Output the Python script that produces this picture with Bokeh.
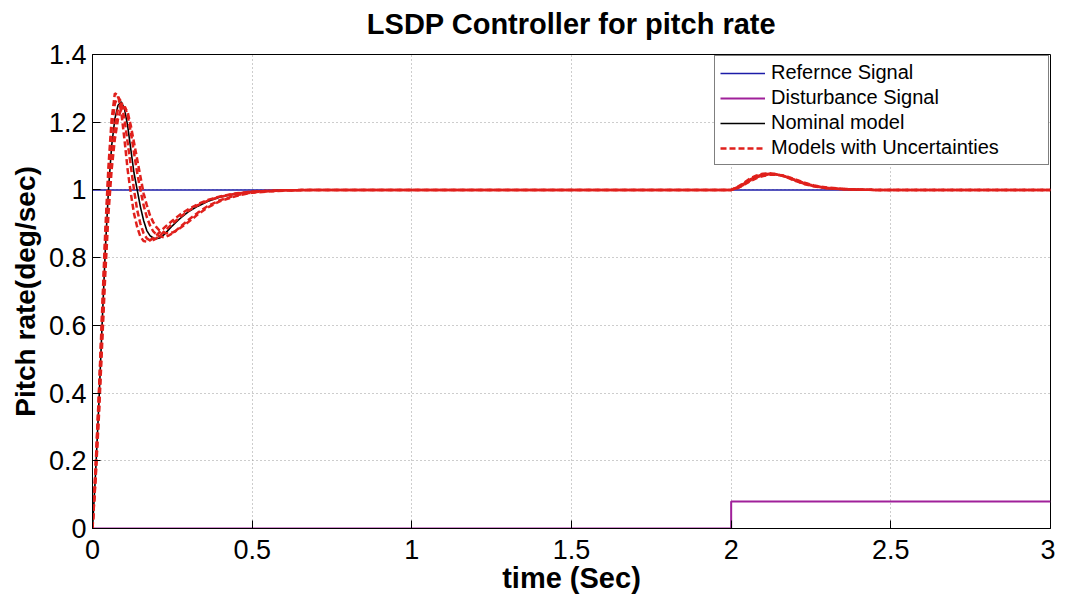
from bokeh.plotting import figure
from bokeh.models import FixedTicker, CustomJSTickFormatter, Legend, LegendItem, Title
from bokeh.embed import file_html
from bokeh.resources import INLINE

# ---------------- data ----------------
x_ticks = [0, 0.5, 1, 1.5, 2, 2.5, 3]
y_ticks = [0, 0.2, 0.4, 0.6, 0.8, 1.0, 1.2, 1.4]

ref_t = [0, 3]
ref_y = [1, 1]

dist_t = [0, 2, 2, 3]
dist_y = [0, 0, 0.08, 0.08]

# transient time grid (s)
tr = [0.00, 0.01, 0.02, 0.03, 0.04, 0.05, 0.06, 0.07, 0.08, 0.09, 0.10, 0.11, 0.12,
      0.13, 0.14, 0.15, 0.16, 0.17, 0.18, 0.19, 0.20, 0.21, 0.22, 0.23, 0.24, 0.25,
      0.26, 0.27, 0.28, 0.29, 0.30, 0.33, 0.36, 0.40, 0.45, 0.50, 0.60, 0.70]
# disturbance-response time grid (s)
tb = [2.00, 2.02, 2.04, 2.06, 2.08, 2.10, 2.12, 2.14, 2.16, 2.18, 2.20, 2.23, 2.26,
      2.30, 2.35, 2.40, 2.45, 2.50, 3.00]

nominal_tr = [0, 0.17, 0.37, 0.60, 0.82, 1.00, 1.13, 1.21, 1.25, 1.26, 1.24, 1.19, 1.12,
              1.05, 1.00, 0.95, 0.91, 0.88, 0.865, 0.858, 0.856, 0.858, 0.864, 0.874, 0.884,
              0.894, 0.903, 0.912, 0.920, 0.928, 0.935, 0.952, 0.966, 0.979, 0.989, 0.995,
              0.999, 1.0]
nominal_tb = [1.0, 1.007, 1.018, 1.030, 1.039, 1.045, 1.047, 1.046, 1.042, 1.036, 1.028,
              1.018, 1.011, 1.005, 1.002, 1.001, 1.0, 1.0, 1.0]

unc_a_tr = [0, 0.19, 0.40, 0.64, 0.88, 1.07, 1.21, 1.285, 1.28, 1.23, 1.15, 1.06, 0.99,
            0.93, 0.89, 0.862, 0.849, 0.847, 0.851, 0.858, 0.866, 0.875, 0.884, 0.893, 0.901,
            0.909, 0.917, 0.924, 0.931, 0.937, 0.943, 0.958, 0.970, 0.981, 0.990, 0.995,
            0.999, 1.0]
unc_b_tr = [0, 0.18, 0.39, 0.62, 0.85, 1.04, 1.18, 1.255, 1.275, 1.26, 1.21, 1.14, 1.07,
            1.00, 0.94, 0.90, 0.872, 0.857, 0.851, 0.852, 0.857, 0.864, 0.873, 0.882, 0.891,
            0.900, 0.908, 0.916, 0.924, 0.931, 0.938, 0.955, 0.968, 0.980, 0.989, 0.995,
            0.999, 1.0]
unc_c_tr = [0, 0.16, 0.35, 0.57, 0.79, 0.97, 1.10, 1.19, 1.24, 1.256, 1.25, 1.22, 1.17,
            1.11, 1.05, 1.00, 0.955, 0.92, 0.895, 0.878, 0.868, 0.863, 0.861, 0.862, 0.866,
            0.872, 0.879, 0.887, 0.895, 0.903, 0.911, 0.933, 0.952, 0.970, 0.984, 0.993,
            0.999, 1.0]
unc_d_tr = [0, 0.15, 0.33, 0.54, 0.75, 0.93, 1.06, 1.15, 1.21, 1.24, 1.245, 1.23, 1.19,
            1.14, 1.09, 1.04, 0.99, 0.955, 0.925, 0.905, 0.89, 0.88, 0.875, 0.872, 0.872,
            0.874, 0.878, 0.884, 0.891, 0.898, 0.905, 0.928, 0.948, 0.967, 0.982, 0.992,
            0.998, 1.0]

unc_a_tb = [1.0, 1.009, 1.021, 1.034, 1.043, 1.048, 1.049, 1.047, 1.042, 1.035, 1.027,
            1.017, 1.010, 1.005, 1.002, 1.001, 1.0, 1.0, 1.0]
unc_b_tb = [1.0, 1.008, 1.019, 1.031, 1.040, 1.046, 1.048, 1.046, 1.042, 1.036, 1.028,
            1.018, 1.011, 1.005, 1.002, 1.001, 1.0, 1.0, 1.0]
unc_c_tb = [1.0, 1.006, 1.016, 1.028, 1.037, 1.043, 1.046, 1.046, 1.043, 1.037, 1.030,
            1.020, 1.012, 1.006, 1.003, 1.001, 1.0, 1.0, 1.0]
unc_d_tb = [1.0, 1.005, 1.015, 1.026, 1.035, 1.041, 1.045, 1.045, 1.043, 1.038, 1.031,
            1.021, 1.013, 1.007, 1.003, 1.001, 1.0, 1.0, 1.0]

FONT = "Liberation Sans"

p = figure(width=1055, height=597, output_backend="svg", toolbar_location=None,
           x_range=(0, 3), y_range=(0, 1.4),
           min_border_left=92, min_border_right=5, min_border_top=54, min_border_bottom=69)

# spacer (nearest the frame) then the real title, so the title sits higher up
spacer = Title(text=" ", text_font_size="1px", standoff=12)
p.add_layout(spacer, "above")
main_title = Title(text="LSDP Controller for pitch rate", align="center",
                   text_font=FONT, text_font_size="29px", text_font_style="bold",
                   text_color="black", standoff=0)
p.add_layout(main_title, "above")

p.outline_line_color = "black"
p.outline_line_width = 1
p.background_fill_color = "white"
p.border_fill_color = "white"

for ax in (p.xaxis[0], p.yaxis[0]):
    ax.axis_line_color = "black"
    ax.major_tick_line_color = "black"
    ax.major_tick_in = 8
    ax.major_tick_out = 0
    ax.minor_tick_line_color = None
    ax.major_label_text_font = FONT
    ax.major_label_text_font_size = "27px"
    ax.major_label_text_color = "black"
    ax.axis_label_text_font = FONT
    ax.axis_label_text_font_style = "bold"
    ax.axis_label_text_color = "black"

fmt = CustomJSTickFormatter(code="return String(Number(tick.toFixed(1)));")
p.xaxis.ticker = FixedTicker(ticks=x_ticks)
p.yaxis.ticker = FixedTicker(ticks=y_ticks)
p.xaxis.formatter = fmt
p.yaxis.formatter = fmt
p.xaxis.axis_label = "time (Sec)"
p.yaxis.axis_label = "Pitch rate(deg/sec)"
p.xaxis.axis_label_text_font_size = "29px"
p.yaxis.axis_label_text_font_size = "28px"
p.xaxis.major_label_standoff = 11
p.yaxis.major_label_standoff = 6
p.xaxis.axis_label_standoff = 0
p.yaxis.axis_label_standoff = 5

p.grid.grid_line_color = "#9a9a9a"
p.grid.grid_line_dash = "1 3"
p.grid.grid_line_width = 1

r_ref = p.line(ref_t, ref_y, line_color="#1c1ca8", line_width=1.5)
r_dist = p.line(dist_t, dist_y, line_color="#a0209a", line_width=2)
r_nom = p.line(tr + tb, nominal_tr + nominal_tb, line_color="black", line_width=1.6)

red = "#e0201c"
r_unc = []
for ytr, ytb in ((unc_a_tr, unc_a_tb), (unc_b_tr, unc_b_tb),
                 (unc_c_tr, unc_c_tb), (unc_d_tr, unc_d_tb)):
    r_unc.append(p.line(tr + tb, ytr + ytb, line_color=red, line_width=2.5,
                        line_dash="6 3"))

legend = Legend(items=[
    LegendItem(label="Refernce Signal", renderers=[r_ref]),
    LegendItem(label="Disturbance Signal", renderers=[r_dist]),
    LegendItem(label="Nominal model", renderers=[r_nom]),
    LegendItem(label="Models with Uncertainties", renderers=[r_unc[0]]),
], location="top_right")
legend.label_text_font = FONT
legend.label_text_font_size = "20px"
legend.label_text_color = "black"
legend.glyph_width = 45
legend.glyph_height = 20
legend.label_height = 20
legend.label_width = 272
legend.spacing = 2
legend.padding = 5
legend.margin = 1
legend.label_standoff = 6
legend.border_line_color = "black"
legend.border_line_width = 1
legend.background_fill_color = "white"
legend.background_fill_alpha = 1.0
p.add_layout(legend, "center")

open("out.html", "w").write(file_html(p, INLINE))
